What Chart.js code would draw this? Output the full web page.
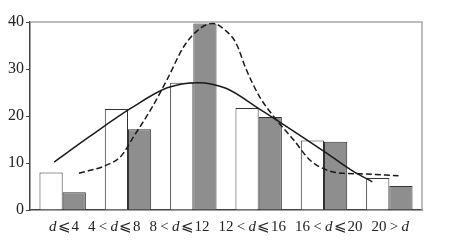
<!DOCTYPE html>
<html>
<head>
<meta charset="utf-8">
<script src="https://cdn.jsdelivr.net/npm/chart.js@4.4.1/dist/chart.umd.min.js"></script>
<style>
  html, body { margin: 0; padding: 0; background: #fff; }
  #wrap { width: 449px; height: 243px; }
</style>
</head>
<body>
<div id="wrap"><canvas id="myChart" width="449" height="243"></canvas></div>
<script>
// categories and bar values
const categories = ['d⩽4', '4<d⩽8', '8<d⩽12', '12<d⩽16', '16<d⩽20', '20>d'];
const whiteValues = [8.0, 21.5, 27.1, 21.7, 14.8, 6.8];
const grayValues = [3.8, 17.2, 39.7, 19.8, 14.5, 5.1];
const yTicks = [0, 10, 20, 30, 40];

// curves, x in category units (0 = centre of first group)
const solidCurve = [
  { x: -0.13, y: 10.2 }, { x: 0.42, y: 15.7 }, { x: 1.04, y: 21.6 },
  { x: 1.60, y: 26.0 }, { x: 2.07, y: 27.1 }, { x: 2.50, y: 25.9 },
  { x: 2.99, y: 21.7 }, { x: 3.27, y: 19.2 }, { x: 3.65, y: 15.7 },
  { x: 4.04, y: 12.1 }, { x: 4.45, y: 8.2 }, { x: 4.74, y: 6.0 }
];
const dashedCurve = [
  { x: 0.25, y: 7.8 }, { x: 0.68, y: 9.6 }, { x: 0.89, y: 11.4 },
  { x: 1.09, y: 15.7 }, { x: 1.35, y: 21.4 }, { x: 1.60, y: 27.8 },
  { x: 1.86, y: 34.9 }, { x: 2.12, y: 38.8 }, { x: 2.30, y: 39.7 },
  { x: 2.50, y: 38.1 }, { x: 2.65, y: 35.6 }, { x: 2.81, y: 29.9 },
  { x: 3.01, y: 24.2 }, { x: 3.27, y: 19.2 }, { x: 3.53, y: 15.0 },
  { x: 3.78, y: 10.7 }, { x: 4.04, y: 8.5 }, { x: 4.30, y: 7.8 },
  { x: 4.55, y: 7.7 }, { x: 5.14, y: 7.3 }
];

const serif = '"Liberation Serif", "DejaVu Serif", serif';

// frame around the plot area (light gray top/right)
const framePlugin = {
  id: 'frame',
  beforeDatasetsDraw(chart) {
    const a = chart.chartArea;
    const ctx = chart.ctx;
    ctx.save();
    ctx.strokeStyle = '#a8a8a8';
    ctx.lineWidth = 1.5;
    ctx.beginPath();
    ctx.moveTo(a.left, a.top);
    ctx.lineTo(a.right, a.top);
    ctx.lineTo(a.right, a.bottom);
    ctx.stroke();
    ctx.restore();
  }
};

// x labels: italic d, relation signs in a full-width box, laid out as one line
const labelPlugin = {
  id: 'italicLabels',
  afterDraw(chart) {
    const ctx = chart.ctx;
    const a = chart.chartArea;
    const y = a.bottom + 17;
    const gap = 9;
    ctx.save();
    ctx.fillStyle = '#222';
    ctx.textBaseline = 'middle';
    ctx.textAlign = 'left';
    const labels = categories.map(lab => {
      const pieces = [];
      for (const ch of lab) {
        const font = (ch === 'd' ? 'italic ' : '') + '15px ' + serif;
        ctx.font = font;
        const w = ctx.measureText(ch).width;
        const box = '<>⩽'.includes(ch) ? 15 : w;
        pieces.push({ t: ch, f: font, w: w, box: box });
      }
      return { pieces, width: pieces.reduce((s, p) => s + p.box, 0) };
    });
    const total = labels.reduce((s, l) => s + l.width, 0) + gap * (labels.length - 1);
    let x = (a.left + a.right) / 2 + 3 - total / 2;
    labels.forEach(l => {
      l.pieces.forEach(pc => {
        ctx.font = pc.f;
        ctx.fillText(pc.t, x + (pc.box - pc.w) / 2, y);
        x += pc.box;
      });
      x += gap;
    });
    ctx.restore();
  }
};

const ctx = document.getElementById('myChart').getContext('2d');
new Chart(ctx, {
  type: 'bar',
  data: {
    datasets: [
      {
        type: 'line', data: solidCurve,
        borderColor: '#1a1a1a', borderWidth: 1.5, pointRadius: 0,
        cubicInterpolationMode: 'monotone', fill: false
      },
      {
        type: 'line', data: dashedCurve,
        borderColor: '#1a1a1a', borderWidth: 1.5, borderDash: [6, 3], pointRadius: 0,
        cubicInterpolationMode: 'monotone', fill: false
      },
      {
        data: whiteValues.map((v, i) => ({ x: i, y: v })),
        backgroundColor: '#ffffff', borderColor: '#333',
        borderWidth: 1, barPercentage: 1, categoryPercentage: 0.71
      },
      {
        data: grayValues.map((v, i) => ({ x: i, y: v })),
        backgroundColor: '#8e8e8e', borderColor: '#333',
        borderWidth: 1, barPercentage: 1, categoryPercentage: 0.71
      }
    ]
  },
  plugins: [framePlugin, labelPlugin],
  options: {
    responsive: false,
    animation: false,
    layout: { padding: { top: 22, right: 27, left: 0, bottom: 0 } },
    plugins: { legend: { display: false }, tooltip: { enabled: false } },
    scales: {
      x: {
        type: 'linear', min: -0.5, max: 5.5, offset: false,
        // one tick per category, so the bar width follows the category spacing
        afterBuildTicks(scale) { scale.ticks = categories.map((c, i) => ({ value: i })); },
        grid: { display: false },
        border: { color: '#444', width: 1.5 },
        ticks: { display: false },
        afterFit(scale) { scale.height = 33; }
      },
      y: {
        min: 0, max: 40,
        afterBuildTicks(scale) { scale.ticks = yTicks.map(v => ({ value: v })); },
        grid: { drawOnChartArea: false, tickLength: 4, color: '#444' },
        border: { color: '#444', width: 1.5 },
        ticks: { color: '#222', padding: 2, font: { family: serif, size: 16 } },
        afterFit(scale) { scale.width = 30; }
      }
    }
  }
});
</script>
</body>
</html>
